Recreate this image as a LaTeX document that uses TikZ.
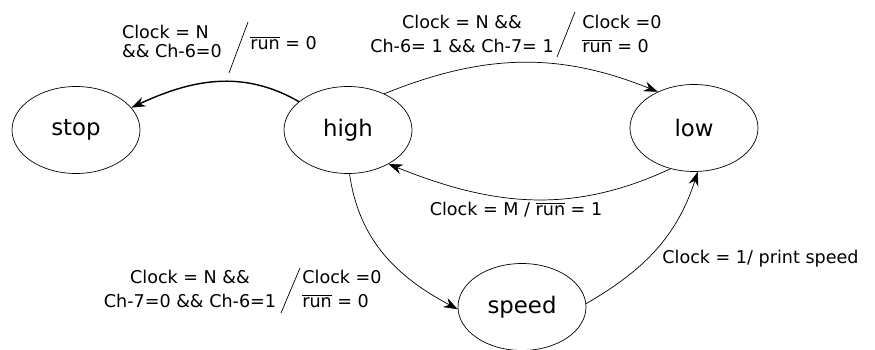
\documentclass[tikz,border=0pt]{standalone}
\usepackage{fontspec}
\setmainfont{DejaVu Sans}
\usepackage{tikz}
\usetikzlibrary{shapes.geometric, arrows.meta}

\newcommand{\runbar}{$\overline{\mbox{run}}$}

\begin{document}
\begin{tikzpicture}[>={Stealth[length=2.8mm, width=2mm, inset=0.9mm]}, x=0.02cm, y=-0.02cm,
    statenode/.style={draw, ellipse, minimum width=2.56cm, minimum height=1.74cm, font=\fontsize{13}{15}\selectfont},
    lbl/.style={inner sep=0pt, font=\fontsize{10}{13.6}\selectfont}]
        \useasboundingbox (0,0) rectangle (875,350);
        \node[statenode] (stop) at (76, 130) {stop};
        \node[statenode] (high) at (348, 130) {high};
        \node[statenode] (low) at (694, 128) {low};
        \node[statenode] (speed) at (522, 307) {speed};
        \draw[->, line width=0.8pt] (high.150) to[out=150, in=25] (stop.22);
        \draw[->] (high.45) to[out=22, in=158] (low.135);
        \draw[->] (low.240) to[out=205, in=-22] (high.320);
        \draw[->] (high.272) to[out=-82, in=152] (speed.182);
        \draw[->] (speed.3) to[out=30, in=252] (low.275);
        \node[lbl, align=left, font=\fontsize{10}{10.8}\selectfont] (condstop) at (172, 41) {Clock = N\\\&\& Ch-6=0};
        \node[lbl, anchor=west] (actstop) at (250, 43) {\runbar{} = 0};
        \node[lbl, align=center] (condlow) at (462, 34) {Clock = N \&\&\\Ch-6= 1 \&\& Ch-7= 1};
        \node[lbl, align=left, anchor=west] (actlow) at (582, 34) {Clock =0\\\runbar{} = 0};
        \node[lbl] (condhigh) at (516, 210) {Clock = M / \runbar{} = 1};
        \node[lbl, align=center] (condspeed) at (190, 289) {Clock = N \&\&\\Ch-7=0 \&\& Ch-6=1};
        \node[lbl, align=left, anchor=west] (actspeed) at (302, 289) {Clock =0\\\runbar{} = 0};
        \node[lbl, anchor=west] (print) at (662, 259) {Clock = 1/ print speed};
        \coordinate (s1a) at (248, 22); \coordinate (s1b) at (229, 73);
        \coordinate (s2a) at (575, 12); \coordinate (s2b) at (557, 57);
        \coordinate (s3a) at (300, 268); \coordinate (s3b) at (281, 313);
        \draw (s1a) -- (s1b);
        \draw (s2a) -- (s2b);
        \draw (s3a) -- (s3b);
      \end{tikzpicture}
\end{document}
